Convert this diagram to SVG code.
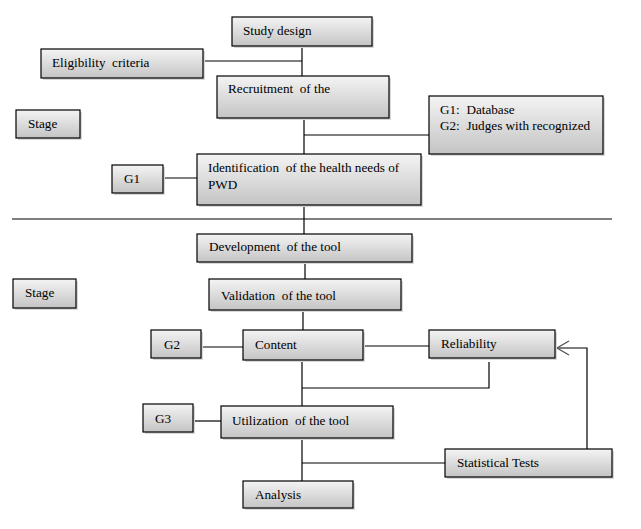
<svg xmlns="http://www.w3.org/2000/svg" width="641" height="529" viewBox="0 0 641 529" font-family="'Liberation Serif', 'Times New Roman', serif" font-size="13.2">
<defs>
<linearGradient id="g" x1="0" y1="0" x2="0" y2="1">
<stop offset="0" stop-color="#f4f4f4"/>
<stop offset="1" stop-color="#c4c4c4"/>
</linearGradient>
</defs>
<rect width="641" height="529" fill="#fff"/>
<g id="connectors" stroke="#000" stroke-width="1.2" fill="none">
<line x1="302" y1="46" x2="302" y2="76"/>
<line x1="203" y1="61" x2="302" y2="61"/>
<line x1="304" y1="118" x2="304" y2="154"/>
<line x1="304" y1="135" x2="429" y2="135"/>
<line x1="163" y1="178" x2="197" y2="178"/>
<line x1="304" y1="205" x2="304" y2="234"/>
<line x1="12" y1="219" x2="612" y2="219"/>
<line x1="305" y1="262" x2="305" y2="279"/>
<line x1="303" y1="310" x2="303" y2="330"/>
<line x1="201" y1="347" x2="243" y2="347"/>
<line x1="365" y1="346" x2="429" y2="346"/>
<line x1="302" y1="360" x2="302" y2="406"/>
<polyline points="302,388 489,388 489,362"/>
<line x1="193" y1="421" x2="221" y2="421"/>
<line x1="302" y1="438" x2="302" y2="481"/>
<line x1="302" y1="463" x2="445" y2="463"/>
<polyline points="587,449 587,348 557,348"/>
<path d="M569,341 L557,348 L569,355" stroke="#555" stroke-width="1.3"/>
</g>
<g id="study-design"><rect fill="#d8d8d8" x="234" y="19" width="140" height="29"/><rect fill="url(#g)" stroke="#000" stroke-width="1.2" x="232" y="17" width="140" height="29"/><text x="243" y="35">Study design</text></g>
<g id="eligibility"><rect fill="#d8d8d8" x="43" y="51" width="162" height="29"/><rect fill="url(#g)" stroke="#000" stroke-width="1.2" x="41" y="49" width="162" height="29"/><text x="52" y="67" xml:space="preserve">Eligibility  criteria</text></g>
<g id="recruitment"><rect fill="#d8d8d8" x="219" y="78" width="172" height="42"/><rect fill="url(#g)" stroke="#000" stroke-width="1.2" x="217" y="76" width="172" height="42"/><text x="228" y="93" xml:space="preserve">Recruitment  of the</text></g>
<g id="stage1"><rect fill="#d8d8d8" x="18" y="112" width="64" height="28"/><rect fill="url(#g)" stroke="#000" stroke-width="1.2" x="16" y="110" width="64" height="28"/><text x="28" y="128">Stage</text></g>
<g id="groups"><rect fill="#d8d8d8" x="431" y="98" width="174" height="58"/><rect fill="url(#g)" stroke="#000" stroke-width="1.2" x="429" y="96" width="174" height="58"/><text x="440" y="114" xml:space="preserve">G1:  Database</text><text x="440" y="130" xml:space="preserve">G2:  Judges with recognized</text></g>
<g id="g1"><rect fill="#d8d8d8" x="114" y="167" width="51" height="28"/><rect fill="url(#g)" stroke="#000" stroke-width="1.2" x="112" y="165" width="51" height="28"/><text x="124" y="183">G1</text></g>
<g id="identification"><rect fill="#d8d8d8" x="199" y="156" width="224" height="51"/><rect fill="url(#g)" stroke="#000" stroke-width="1.2" x="197" y="154" width="224" height="51"/><text x="208" y="172" xml:space="preserve">Identification  of the health needs of</text><text x="208" y="189">PWD</text></g>
<g id="development"><rect fill="#d8d8d8" x="199" y="236" width="215" height="28"/><rect fill="url(#g)" stroke="#000" stroke-width="1.2" x="197" y="234" width="215" height="28"/><text x="209" y="251" xml:space="preserve">Development  of the tool</text></g>
<g id="stage2"><rect fill="#d8d8d8" x="15" y="281" width="63" height="29"/><rect fill="url(#g)" stroke="#000" stroke-width="1.2" x="13" y="279" width="63" height="29"/><text x="25" y="297">Stage</text></g>
<g id="validation"><rect fill="#d8d8d8" x="211" y="281" width="192" height="31"/><rect fill="url(#g)" stroke="#000" stroke-width="1.2" x="209" y="279" width="192" height="31"/><text x="221" y="300" xml:space="preserve">Validation  of the tool</text></g>
<g id="g2"><rect fill="#d8d8d8" x="153" y="332" width="50" height="28"/><rect fill="url(#g)" stroke="#000" stroke-width="1.2" x="151" y="330" width="50" height="28"/><text x="164" y="349">G2</text></g>
<g id="content"><rect fill="#d8d8d8" x="245" y="332" width="120" height="30"/><rect fill="url(#g)" stroke="#000" stroke-width="1.2" x="243" y="330" width="120" height="30"/><text x="255" y="349">Content</text></g>
<g id="reliability"><rect fill="#d8d8d8" x="431" y="332" width="126" height="28"/><rect fill="url(#g)" stroke="#000" stroke-width="1.2" x="429" y="330" width="126" height="28"/><text x="441" y="348">Reliability</text></g>
<g id="g3"><rect fill="#d8d8d8" x="145" y="406" width="50" height="28"/><rect fill="url(#g)" stroke="#000" stroke-width="1.2" x="143" y="404" width="50" height="28"/><text x="155" y="423">G3</text></g>
<g id="utilization"><rect fill="#d8d8d8" x="223" y="408" width="172" height="32"/><rect fill="url(#g)" stroke="#000" stroke-width="1.2" x="221" y="406" width="172" height="32"/><text x="232" y="425" xml:space="preserve">Utilization  of the tool</text></g>
<g id="statistical"><rect fill="#d8d8d8" x="447" y="451" width="167" height="28"/><rect fill="url(#g)" stroke="#000" stroke-width="1.2" x="445" y="449" width="167" height="28"/><text x="457" y="467">Statistical Tests</text></g>
<g id="analysis"><rect fill="#d8d8d8" x="245" y="483" width="110" height="27"/><rect fill="url(#g)" stroke="#000" stroke-width="1.2" x="243" y="481" width="110" height="27"/><text x="255" y="499">Analysis</text></g>
</svg>
